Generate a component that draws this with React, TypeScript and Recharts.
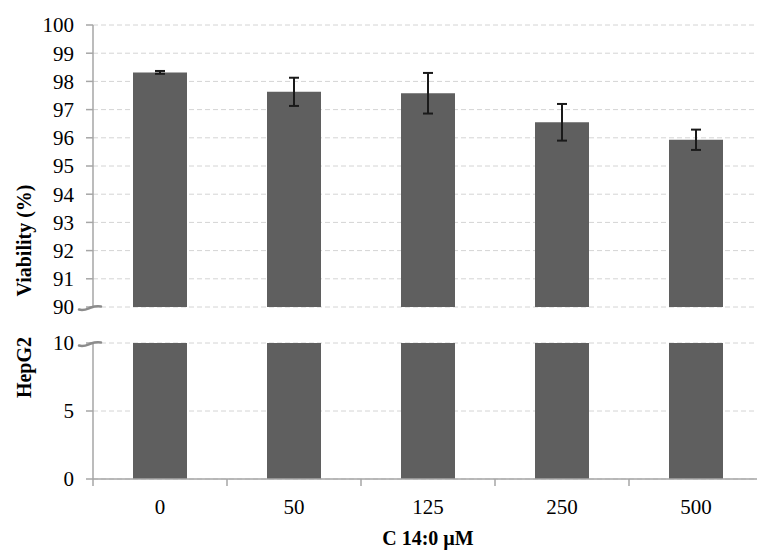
import React from 'react';
import {
  BarChart,
  Bar,
  XAxis,
  YAxis,
  CartesianGrid,
  ErrorBar
} from 'recharts';

// C14:0 concentrations (µM)
const concentrations = ['0', '50', '125', '250', '500'];
// HepG2 viability (%) and SD
const viability = [98.32, 97.63, 97.58, 96.55, 95.93];
const viabilitySd = [0.05, 0.5, 0.72, 0.65, 0.36];

const upperTicks = [90, 91, 92, 93, 94, 95, 96, 97, 98, 99, 100];
const lowerTicks = [0, 5, 10];

const FONT = '"Liberation Serif", "Times New Roman", serif';
const AXIS_GREY = '#a6a6a6';
const GRID_GREY = '#d4d4d4';
const BAR_FILL = '#5f5f5f';

const CHART_W = 800;
const PLOT_LEFT = 93;
const PLOT_RIGHT_MARGIN = 37;
const HALF_BAND = (CHART_W - PLOT_LEFT - PLOT_RIGHT_MARGIN) / concentrations.length / 2;

const data = concentrations.map((c, i) => ({
  conc: c,
  viability: viability[i],
  sd: viabilitySd[i]
}));

const yTick = { fontSize: 21, fill: '#000', fontFamily: FONT };

// category label centred, tick mark at left edge of each band (Excel style)
const BottomTick = (props: any) => {
  const { x, y, payload, index } = props;
  return (
    <g>
      <line x1={x - HALF_BAND} x2={x - HALF_BAND} y1={y} y2={y + 7} stroke={AXIS_GREY} strokeWidth={1.5} />
      {index === concentrations.length - 1 && (
        <line x1={x + HALF_BAND} x2={x + HALF_BAND} y1={y} y2={y + 7} stroke={AXIS_GREY} strokeWidth={1.5} />
      )}
      <text x={x} y={y + 35} textAnchor="middle" fontSize={21} fontFamily={FONT} fill="#000">
        {payload.value}
      </text>
    </g>
  );
};

export default function App() {
  return (
    <div
      style={{
        position: 'absolute',
        left: 0,
        top: 0,
        width: 757,
        height: 551,
        overflow: 'hidden',
        background: '#fff'
      }}
    >
      {/* upper panel: 90-100 */}
      <div style={{ position: 'absolute', left: 0, top: 0 }}>
        <BarChart
          width={CHART_W}
          height={320}
          data={data}
          margin={{ top: 25, right: PLOT_RIGHT_MARGIN, left: 0, bottom: 13 }}
          barSize={54}
        >
          <CartesianGrid vertical={false} stroke={GRID_GREY} strokeDasharray="5 3" />
          <XAxis dataKey="conc" hide />
          <YAxis
            width={PLOT_LEFT}
            domain={[90, 100]}
            ticks={upperTicks}
            allowDataOverflow
            interval={0}
            tick={yTick}
            tickSize={7}
            tickMargin={12}
            axisLine={{ stroke: AXIS_GREY, strokeWidth: 1.5 }}
            tickLine={{ stroke: AXIS_GREY, strokeWidth: 1.5 }}
          />
          <Bar dataKey="viability" fill={BAR_FILL} isAnimationActive={false}>
            <ErrorBar dataKey="sd" width={5} stroke="#1a1a1a" strokeWidth={2} />
          </Bar>
        </BarChart>
      </div>

      {/* lower panel: 0-10 */}
      <div style={{ position: 'absolute', left: 0, top: 330 }}>
        <BarChart
          width={CHART_W}
          height={221}
          data={data}
          margin={{ top: 13, right: PLOT_RIGHT_MARGIN, left: 0, bottom: 0 }}
          barSize={54}
        >
          <CartesianGrid vertical={false} stroke={GRID_GREY} strokeDasharray="5 3" />
          <XAxis
            dataKey="conc"
            height={72}
            tickSize={0}
            tickMargin={0}
            tick={<BottomTick />}
            axisLine={{ stroke: AXIS_GREY, strokeWidth: 1.5 }}
            tickLine={false}
            interval={0}
          />
          <YAxis
            width={PLOT_LEFT}
            domain={[0, 10]}
            ticks={lowerTicks}
            allowDataOverflow
            interval={0}
            tick={yTick}
            tickSize={7}
            tickMargin={12}
            axisLine={{ stroke: AXIS_GREY, strokeWidth: 1.5 }}
            tickLine={{ stroke: AXIS_GREY, strokeWidth: 1.5 }}
          />
          <Bar dataKey="viability" fill={BAR_FILL} isAnimationActive={false} />
        </BarChart>
      </div>

      {/* axis titles and break marks */}
      <svg
        width={757}
        height={551}
        style={{ position: 'absolute', left: 0, top: 0, pointerEvents: 'none' }}
      >
        <g fontFamily={FONT} fontWeight="bold" fontSize={20} fill="#000">
          <text transform="translate(31,240.5) rotate(-90)" textAnchor="middle">
            Viability (%)
          </text>
          <text transform="translate(31,367.5) rotate(-90)" textAnchor="middle">
            HepG2
          </text>
          <text x={428} y={545} textAnchor="middle">
            C 14:0 µM
          </text>
        </g>
        <g fill="none" stroke="#8c8c8c" strokeWidth={2.5} strokeLinecap="round">
          <path d="M79,309.5 C84,311 87,309 91,307.5 C95,306 98,306 101,306.5" />
          <path d="M79,345.5 C84,347 87,345 91,343.5 C95,342 98,342 101,342.5" />
        </g>
      </svg>
    </div>
  );
}
